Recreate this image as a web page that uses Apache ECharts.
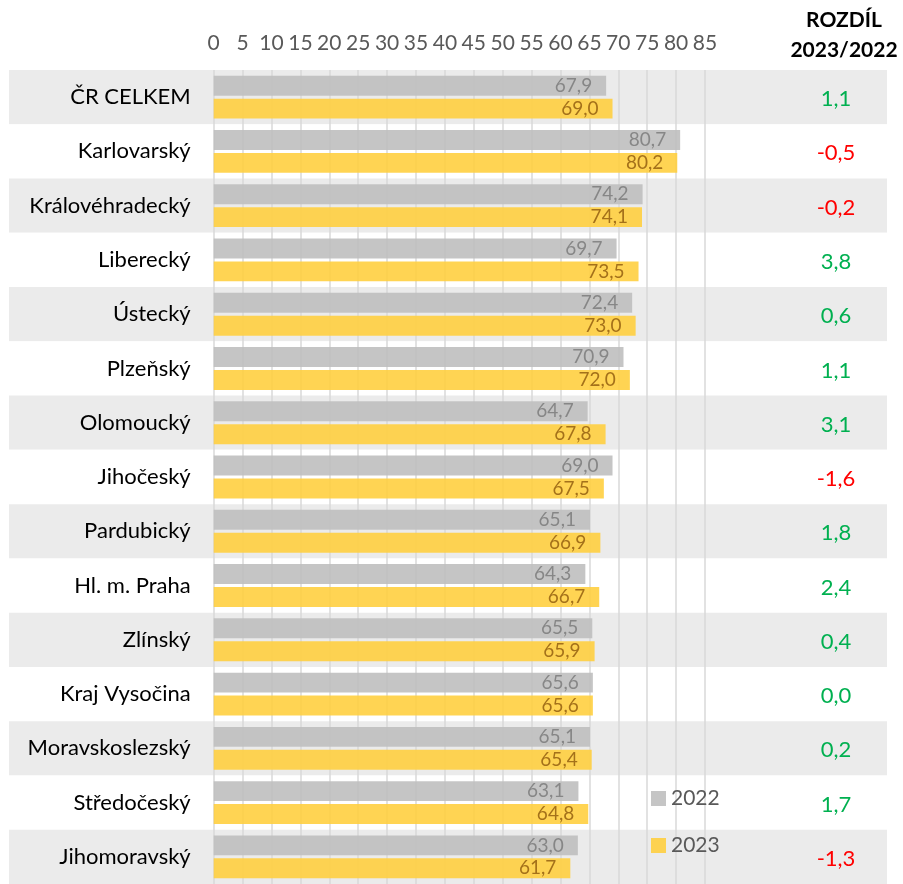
<!DOCTYPE html>
<html>
<head>
<meta charset="utf-8">
<script src="https://cdn.jsdelivr.net/npm/echarts@6/dist/echarts.min.js"></script>
<style>
  html, body { margin: 0; padding: 0; background: #fff; }
  #chart { width: 903px; height: 884px; }
</style>
</head>
<body>
<div id="chart"></div>
<script>
// kraje, shora dolu
const categories = ["ČR CELKEM", "Karlovarský", "Královéhradecký", "Liberecký", "Ústecký", "Plzeňský",
  "Olomoucký", "Jihočeský", "Pardubický", "Hl. m. Praha", "Zlínský", "Kraj Vysočina",
  "Moravskoslezský", "Středočeský", "Jihomoravský"];
const values2022 = [67.9, 80.7, 74.2, 69.7, 72.4, 70.9, 64.7, 69.0, 65.1, 64.3, 65.5, 65.6, 65.1, 63.1, 63.0];
const values2023 = [69.0, 80.2, 74.1, 73.5, 73.0, 72.0, 67.8, 67.5, 66.9, 66.7, 65.9, 65.6, 65.4, 64.8, 61.7];
// rozdil 2023/2022 (tak jak je v tabulce)
const diffs = [1.1, -0.5, -0.2, 3.8, 0.6, 1.1, 3.1, -1.6, 1.8, 2.4, 0.4, 0.0, 0.2, 1.7, -1.3];
const seriesNames = ["2022", "2023"];
const axisMin = 0, axisMax = 85, axisStep = 5;

const FONT = "Lato";
const fmt = (v) => v.toFixed(1).replace(".", ",");

const chart = echarts.init(document.getElementById("chart"));

const option = {
  animation: false,
  textStyle: { fontFamily: FONT },
  grid: [
    { left: 213.7, right: 198, top: 70, bottom: 0, containLabel: false },
    // pozadi radku pres celou sirku
    { left: 9, right: 16, top: 70, bottom: 0, containLabel: false },
  ],
  xAxis: [
    {
      gridIndex: 0,
      type: "value",
      position: "top",
      min: axisMin,
      max: axisMax,
      interval: axisStep,
      z: 1,
      axisLine: { show: false },
      axisTick: { show: false },
      axisLabel: { show: true, interval: 0, margin: 16, fontSize: 21, color: "#595959", fontFamily: FONT, hideOverlap: false },
      splitLine: { show: true, lineStyle: { color: "#d9d9d9", width: 1.5 } },
    },
    { gridIndex: 1, type: "value", show: false, min: 0, max: 1 },
  ],
  yAxis: [
    {
      gridIndex: 0,
      type: "category",
      data: categories,
      inverse: true,
      z: 1,
      axisLine: { show: false },
      axisTick: { show: false },
      axisLabel: { fontSize: 22, color: "#000", margin: 23, fontFamily: FONT },
    },
    {
      gridIndex: 0,
      type: "category",
      position: "right",
      data: diffs.map(fmt),
      inverse: true,
      z: 1,
      axisLine: { show: false },
      axisTick: { show: false },
      axisLabel: {
        margin: 131,
        align: "center",
        fontFamily: FONT,
        formatter: (v) => (v.charAt(0) === "-" ? "{neg|" + v + "}" : "{pos|" + v + "}"),
        rich: {
          pos: { fontSize: 22, color: "#00b050", fontFamily: FONT, padding: [4, 0, 0, 0] },
          neg: { fontSize: 22, color: "#ff0000", fontFamily: FONT, padding: [4, 0, 0, 0] },
        },
      },
    },
    {
      gridIndex: 1,
      type: "category",
      data: categories,
      inverse: true,
      z: 0,
      axisLine: { show: false },
      axisTick: { show: false },
      axisLabel: { show: false },
      splitArea: { show: true, areaStyle: { color: ["#ebebeb", "#ffffff"] } },
    },
  ],
  legend: {
    orient: "vertical",
    left: 646,
    top: 783,
    icon: "rect",
    itemWidth: 15,
    itemHeight: 15,
    itemGap: 26,
    data: seriesNames,
    textStyle: { fontSize: 21, color: "#595959", fontFamily: FONT },
  },
  graphic: [
    { type: "text", x: 844, y: 20, style: { text: "ROZDÍL", font: "bold 21px " + FONT, fill: "#000", textAlign: "center", textVerticalAlign: "middle" } },
    { type: "text", x: 844, y: 50, style: { text: "2023/2022", font: "bold 21px " + FONT, fill: "#000", textAlign: "center", textVerticalAlign: "middle" } },
  ],
  series: [
    {
      name: seriesNames[0],
      type: "bar",
      xAxisIndex: 0,
      yAxisIndex: 0,
      data: values2022,
      barGap: "15%",
      barCategoryGap: "21%",
      itemStyle: { color: "#bfbfbf", opacity: 0.9 },
      label: {
        show: true,
        position: "insideRight",
        distance: 14,
        formatter: (p) => fmt(p.value),
        fontSize: 19,
        color: "#7f7f7f",
        fontFamily: FONT,
      },
    },
    {
      name: seriesNames[1],
      type: "bar",
      xAxisIndex: 0,
      yAxisIndex: 0,
      data: values2023,
      barGap: "15%",
      barCategoryGap: "21%",
      itemStyle: { color: "#ffcf40", opacity: 0.9 },
      label: {
        show: true,
        position: "insideRight",
        distance: 14,
        formatter: (p) => fmt(p.value),
        fontSize: 19,
        color: "#9a6614",
        fontFamily: FONT,
      },
    },
  ],
};

chart.setOption(option);
</script>
</body>
</html>
